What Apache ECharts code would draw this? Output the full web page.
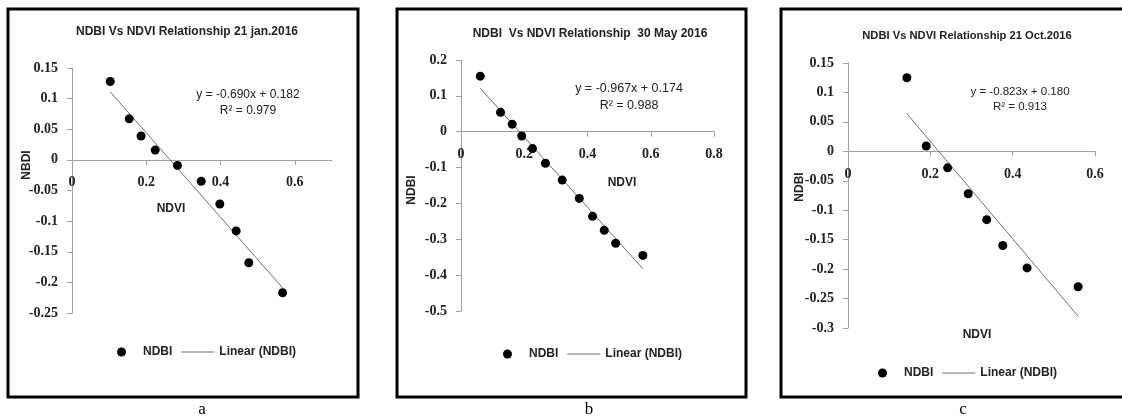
<!DOCTYPE html>
<html>
<head>
<meta charset="utf-8">
<script src="https://cdn.jsdelivr.net/npm/echarts@6/dist/echarts.min.js"></script>
<style>
html,body{margin:0;padding:0;background:#fff;}
#chart{width:1122px;height:417px;}
</style>
</head>
<body>
<div id="chart"></div>
<script>
// ---- Data ----
const titles = ['NDBI Vs NDVI Relationship 21 jan.2016', 'NDBI  Vs NDVI Relationship  30 May 2016', 'NDBI Vs NDVI Relationship 21 Oct.2016'];
const panelLabels = ['a', 'b', 'c'];
const yAxisTitles = ['NBDI', 'NDBI', 'NDBI'];
const xAxisTitle = 'NDVI';
const equations = ['y = -0.690x + 0.182', 'y = -0.967x + 0.174', 'y = -0.823x + 0.180'];
const rSquared = ['R² = 0.979', 'R² = 0.988', 'R² = 0.913'];

const ndviA = [0.103, 0.154, 0.186, 0.224, 0.284, 0.348, 0.398, 0.442, 0.476, 0.567];
const ndbiA = [0.128, 0.067, 0.039, 0.016, -0.009, -0.035, -0.072, -0.116, -0.168, -0.217];
const trendXA = [0.103, 0.567];
const trendYA = [0.111, -0.209];

const ndviB = [0.061, 0.125, 0.162, 0.192, 0.226, 0.267, 0.320, 0.374, 0.416, 0.453, 0.489, 0.575];
const ndbiB = [0.155, 0.054, 0.021, -0.012, -0.047, -0.088, -0.135, -0.186, -0.236, -0.275, -0.311, -0.345];
const trendXB = [0.061, 0.575];
const trendYB = [0.121, -0.382];

const ndviC = [0.143, 0.190, 0.242, 0.292, 0.337, 0.376, 0.435, 0.559];
const ndbiC = [0.125, 0.009, -0.028, -0.072, -0.116, -0.160, -0.198, -0.230];
const trendXC = [0.143, 0.559];
const trendYC = [0.064, -0.280];

const xTicksA = [0, 0.2, 0.4, 0.6];
const xTicksB = [0, 0.2, 0.4, 0.6, 0.8];
const xTicksC = [0, 0.2, 0.4, 0.6];
const yTicksA = [0.15, 0.1, 0.05, 0, -0.05, -0.1, -0.15, -0.2, -0.25];
const yTicksB = [0.2, 0.1, 0, -0.1, -0.2, -0.3, -0.4, -0.5];
const yTicksC = [0.15, 0.1, 0.05, 0, -0.05, -0.1, -0.15, -0.2, -0.25, -0.3];

// ---- Layout / style ----
const panels = [
  {grid:{left:72, top:68, width:260, height:245}, xMin:0, xMax:0.7, yMin:-0.25, yMax:0.15, xTicks:xTicksA, yTicks:yTicksA,
   xs:ndviA, ys:ndbiA, tx:trendXA, ty:trendYA,
   border:{x:8,y:9,width:350,height:388}, lab:{x:202,y:410},
   title:{x:187,y:32,size:12}, eq:{x:248,y:95,y2:111,size:12},
   yName:{x:27,y:165}, xName:{x:171,y:209},
   legend:{left:112, top:341}},
  {grid:{left:461, top:60, width:253, height:251}, xMin:0, xMax:0.8, yMin:-0.5, yMax:0.2, xTicks:xTicksB, yTicks:yTicksB,
   xs:ndviB, ys:ndbiB, tx:trendXB, ty:trendYB,
   border:{x:397,y:9,width:349,height:388}, lab:{x:589,y:410},
   title:{x:590,y:34,size:12}, eq:{x:629,y:89,y2:106,size:12.5},
   yName:{x:412,y:190}, xName:{x:622,y:183},
   legend:{left:498, top:343}},
  {grid:{left:848, top:63, width:247, height:265}, xMin:0, xMax:0.6, yMin:-0.3, yMax:0.15, xTicks:xTicksC, yTicks:yTicksC,
   xs:ndviC, ys:ndbiC, tx:trendXC, ty:trendYC,
   border:{x:781,y:9,width:360,height:388}, lab:{x:963,y:410},
   title:{x:967,y:36,size:11.2}, eq:{x:1020,y:92,y2:107,size:11.5},
   yName:{x:800,y:187}, xName:{x:977,y:335},
   legend:{left:873, top:362}}
];

const axisColor = '#a0a0a0';
const tickFont = {fontFamily:'Liberation Serif', fontWeight:'bold', fontSize:14, color:'#222'};
const sansBold = 'Liberation Sans';

const grids = [], xAxes = [], yAxes = [], series = [], legends = [], graphics = [];
panels.forEach((p, i) => {
  grids.push(Object.assign({}, p.grid));
  // place the x axis (line, ticks, labels) on y = 0
  const zeroOffset = -p.grid.height * (0 - p.yMin) / (p.yMax - p.yMin);
  xAxes.push({
    type:'value', gridIndex:i, min:p.xMin, max:p.xMax, interval:0.2,
    position:'bottom', offset:zeroOffset,
    splitLine:{show:false},
    axisLine:{onZero:false, lineStyle:{color:axisColor, width:1}},
    axisTick:{show:true, length:5, inside:false, customValues:p.xTicks, lineStyle:{color:axisColor}},
    axisLabel:Object.assign({margin:16, customValues:p.xTicks}, tickFont)
  });
  yAxes.push({
    type:'value', gridIndex:i, min:p.yMin, max:p.yMax,
    interval:(i === 1 ? 0.1 : 0.05),
    splitLine:{show:false},
    axisLine:{show:true, onZero:false, lineStyle:{color:axisColor, width:1}},
    axisTick:{show:true, length:5, customValues:p.yTicks, lineStyle:{color:axisColor}},
    axisLabel:Object.assign({margin:14, customValues:p.yTicks}, tickFont)
  });
  series.push({
    name:'NDBI', type:'scatter', xAxisIndex:i, yAxisIndex:i,
    data:p.xs.map((x, k) => [x, p.ys[k]]),
    symbol:'circle', symbolSize:9, itemStyle:{color:'#000', opacity:1}, z:3
  });
  series.push({
    name:'Linear (NDBI)', type:'line', xAxisIndex:i, yAxisIndex:i,
    data:p.tx.map((x, k) => [x, p.ty[k]]),
    symbol:'none', lineStyle:{color:'#6e6e6e', width:1}, itemStyle:{color:'#6e6e6e'}, z:2
  });
  legends.push({
    left:p.legend.left, top:p.legend.top, orient:'horizontal',
    itemWidth:33, itemHeight:9, itemGap:9,
    selectedMode:false,
    textStyle:{fontFamily:sansBold, fontWeight:'bold', fontSize:12, color:'#222'},
    data:[
      {name:'NDBI', icon:'circle', itemStyle:{color:'#000', opacity:1}},
      {name:'Linear (NDBI)', icon:'path://M0,0L33,0L33,1L0,1Z'}
    ]
  });
  graphics.push({
    type:'rect', shape:p.border, style:{fill:null, stroke:'#000', lineWidth:3}, silent:true
  });
  graphics.push({
    type:'text', x:p.lab.x, y:p.lab.y,
    style:{text:panelLabels[i], fontFamily:'Liberation Serif', fontSize:17, fill:'#000', align:'center', verticalAlign:'middle'}
  });
  graphics.push({
    type:'text', x:p.title.x, y:p.title.y,
    style:{text:titles[i], fontFamily:sansBold, fontWeight:'bold', fontSize:p.title.size, fill:'#222', align:'center', verticalAlign:'middle'}
  });
  graphics.push({
    type:'text', x:p.eq.x, y:p.eq.y,
    style:{text:equations[i], fontFamily:sansBold, fontSize:p.eq.size, fill:'#222', align:'center', verticalAlign:'middle'}
  });
  graphics.push({
    type:'text', x:p.eq.x, y:p.eq.y2,
    style:{text:rSquared[i], fontFamily:sansBold, fontSize:p.eq.size, fill:'#222', align:'center', verticalAlign:'middle'}
  });
  graphics.push({
    type:'text', x:p.xName.x, y:p.xName.y,
    style:{text:xAxisTitle, fontFamily:sansBold, fontWeight:'bold', fontSize:12, fill:'#222', align:'center', verticalAlign:'middle'}
  });
  graphics.push({
    type:'text', x:p.yName.x, y:p.yName.y, rotation:Math.PI/2,
    style:{text:yAxisTitles[i], fontFamily:sansBold, fontWeight:'bold', fontSize:12, fill:'#222', align:'center', verticalAlign:'middle'}
  });
});

const chart = echarts.init(document.getElementById('chart'), null, {renderer:'canvas'});
chart.setOption({
  animation:false,
  backgroundColor:'#fff',
  grid:grids, xAxis:xAxes, yAxis:yAxes, series:series, legend:legends,
  graphic:{elements:graphics}
});
</script>
</body>
</html>
